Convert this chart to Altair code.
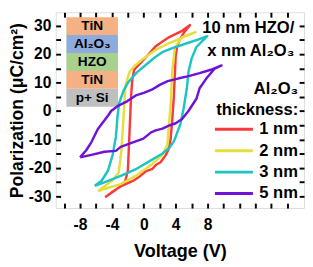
import altair as alt
import pandas as pd

# ---- data (Voltage V, Polarization uC/cm2), loop order ----
series = ["1 nm", "2 nm", "3 nm", "5 nm"]
colors = ["#F93A3A", "#E6DE3C", "#1CC4C4", "#6E12D8"]

V_1 = [-4.85, -4.0, -2.9, -1.3, -0.7, 0.3, 1.1, 1.5, 2.1, 2.75, 3.1, 3.36, 3.56, 3.77, 3.9, 4.0, 4.2, 4.6, 5.0, 5.8,
       4.8, 3.2, 2.4, 1.5, 1.1, 0.3, -0.7, -1.2, -1.45, -1.6, -1.8, -2.0, -2.4, -3.3, -4.85]
P_1 = [-30.3, -28.5, -26.5, -24.5, -23.4, -21.1, -20.3, -19.0, -18.0, -15.5, -13.5, -10.0, -3.5, 5.0, 13.0, 19.4, 23.0, 25.5, 27.4, 30.2,
       28.2, 26.0, 24.5, 22.8, 21.5, 19.0, 16.0, 14.5, 11.0, 5.0, -8.0, -21.0, -25.3, -27.2, -30.3]

V_2 = [-5.75, -4.95, -2.9, -0.9, 1.1, 2.3, 2.95, 3.15, 3.36, 3.56, 3.9, 4.78, 6.5,
       4.4, 2.75, 1.5, 0.0, -1.1, -1.8, -2.3, -2.5, -2.8, -3.15, -4.0, -5.75]
P_2 = [-28.2, -27.4, -25.7, -22.6, -18.5, -15.6, -12.0, -5.0, 2.0, 13.7, 22.3, 26.0, 27.7,
       25.3, 23.3, 21.5, 18.5, 16.0, 13.7, 9.0, 0.0, -13.7, -21.7, -24.5, -28.2]

V_3 = [-6.15, -4.95, -2.9, -0.9, 1.1, 2.3, 3.2, 3.8, 4.6, 5.0, 5.4, 5.6, 6.0, 6.6, 7.96,
       6.8, 5.6, 3.5, 2.4, 1.5, -0.1, -0.9, -1.9, -2.5, -3.1, -3.3, -3.5, -3.9, -4.5, -5.3, -6.15]
P_3 = [-26.3, -25.1, -22.8, -20.3, -17.0, -15.0, -13.0, -10.5, -4.5, 1.0, 8.0, 13.7, 18.5, 22.5, 26.3,
       25.1, 24.0, 22.0, 20.8, 19.1, 15.4, 13.5, 10.3, 7.4, 2.8, -2.0, -9.0, -15.4, -21.0, -24.5, -26.3]

V_5 = [-8.0, -6.57, -4.95, -3.5, -2.9, -1.28, -0.06, 0.92, 1.5, 2.34, 3.15, 4.0, 4.8, 5.6, 6.6, 7.0, 7.84, 8.85, 9.75,
       8.4, 7.0, 5.5, 4.4, 3.0, 2.0, 1.0, 0.0, -0.9, -2.1, -3.3, -4.1, -4.5, -5.76, -6.57, -7.2, -8.0]
P_5 = [-16.3, -15.4, -14.3, -14.0, -12.6, -10.9, -9.7, -7.5, -6.8, -6.2, -5.1, -4.3, -2.8, 0.0, 4.3, 8.0, 11.4, 14.8, 16.0,
       14.5, 13.3, 12.2, 11.5, 10.5, 9.2, 7.5, 6.4, 5.6, 3.4, 1.7, 0.0, -1.7, -6.3, -10.9, -13.7, -16.3]

x_ticks = list(range(-10, 20, 2))
x_labeled = [-8, -4, 0, 4, 8]
y_ticks = list(range(-30, 35, 5))

stack_labels = ["TiN", "Al₂O₃", "HZO", "TiN", "p+ Si"]
stack_fills = ["#F4B183", "#8FAADC", "#A9D18E", "#F4B183", "#BFBFBF"]

note_text = "10 nm HZO/\nx nm Al₂O₃"
legend_title = ["Al₂O₃", "thickness:"]

# ---- build tables ----
rows = []
for name, vs, ps in zip(series, [V_1, V_2, V_3, V_5], [P_1, P_2, P_3, P_5]):
    for i, (v, p) in enumerate(zip(vs, ps)):
        rows.append({"V": v, "P": p, "s": name, "i": i})
df = pd.DataFrame(rows)

inset_left, inset_right, inset_top, band_h = -9.71, -3.24, 33.0, 6.3
inset = pd.DataFrame({
    "label": stack_labels,
    "fill": stack_fills,
    "y1": [inset_top - k * band_h for k in range(len(stack_labels))],
    "y2": [inset_top - (k + 1) * band_h for k in range(len(stack_labels))],
})
inset["ym"] = (inset["y1"] + inset["y2"]) / 2
inset["x1"] = inset_left
inset["x2"] = inset_right
inset["xm"] = (inset_left + inset_right) / 2

note = pd.DataFrame({"t": [note_text]})

FONT = "Liberation Sans"
xscale = alt.Scale(domain=[-11.05, 20.1], nice=False, zero=False)
yscale = alt.Scale(domain=[-34.1, 34.7], nice=False, zero=False)

common = dict(domain=False, grid=False, tickSize=5, tickWidth=2, tickColor="black", offset=-5,
              labelFont=FONT, labelFontSize=16, labelFontWeight="bold", labelColor="black",
              titleFont=FONT, titleFontWeight="bold", titleColor="black")

x_axis = alt.Axis(orient="bottom", values=x_ticks,
                  labelExpr="indexof(%s, datum.value) >= 0 ? '' + datum.value : ''" % str(x_labeled),
                  labelPadding=9, labelOverlap=False, labelFlush=False, title="Voltage (V)",
                  titleFontSize=18.5, titlePadding=10, **common)
y_axis = alt.Axis(orient="left", values=y_ticks,
                  labelExpr="datum.value % 10 == 0 ? '' + datum.value : ''",
                  labelPadding=5, labelOverlap=False, labelFlush=False,
                  title="Polarization (μC/cm²)", titleFontSize=18, titlePadding=2, **common)
x_top = alt.Axis(orient="top", values=x_ticks, labels=False, title=None, **common)
y_right = alt.Axis(orient="right", values=y_ticks, labels=False, title=None, **common)

lines = alt.Chart(df).mark_line(strokeWidth=2.5, strokeJoin="round").encode(
    x=alt.X("V:Q", scale=xscale, axis=x_axis),
    y=alt.Y("P:Q", scale=yscale, axis=y_axis),
    color=alt.Color("s:N", scale=alt.Scale(domain=series, range=colors),
                    legend=alt.Legend(title=legend_title, orient="none", legendX=162, legendY=71,
                                      symbolType="stroke", symbolSize=1521, symbolStrokeWidth=3,
                                      clipHeight=21.7, rowPadding=0, padding=0,
                                      symbolOffset=0, labelOffset=5,
                                      labelFont=FONT, labelFontSize=17, labelFontWeight="bold", labelColor="black",
                                      titleFont=FONT, titleFontSize=17, titleFontWeight="bold", titleColor="black",
                                      titleAlign="right", titleAnchor="end", titleLineHeight=21.3,
                                      titlePadding=0, titleLimit=300, labelLimit=300)),
    order=alt.Order("i:Q"),
)

mirror = alt.Chart(df).mark_point(opacity=0).encode(
    x=alt.X("V:Q", scale=xscale, axis=x_top),
    y=alt.Y("P:Q", scale=yscale, axis=y_right),
)

rects = alt.Chart(inset).mark_rect().encode(
    x=alt.X("x1:Q", scale=xscale, axis=None), x2="x2:Q",
    y=alt.Y("y1:Q", scale=yscale, axis=None), y2="y2:Q",
    fill=alt.Fill("fill:N", scale=None),
)
texts = alt.Chart(inset).mark_text(font=FONT, fontSize=14, fontWeight="bold", color="black").encode(
    x=alt.X("xm:Q", scale=xscale, axis=None),
    y=alt.Y("ym:Q", scale=yscale, axis=None),
    text="label:N",
)
note_mark = alt.Chart(note).mark_text(font=FONT, fontSize=17, fontWeight="bold", color="black",
                                      align="right", baseline="top", lineBreak="\n", lineHeight=23.5).encode(
    x=alt.value(245), y=alt.value(8), text="t:N",
)

chart = alt.layer(rects, texts, lines, mirror, note_mark).resolve_axis(x="independent", y="independent").properties(
    width=255, height=201, autosize="none",
    padding={"left": 49, "top": 1, "right": 1, "bottom": 52},
).configure_view(stroke="black", strokeWidth=2).configure(background="white")

chart.save("out.html", embed_options={"renderer": "svg", "actions": False})
